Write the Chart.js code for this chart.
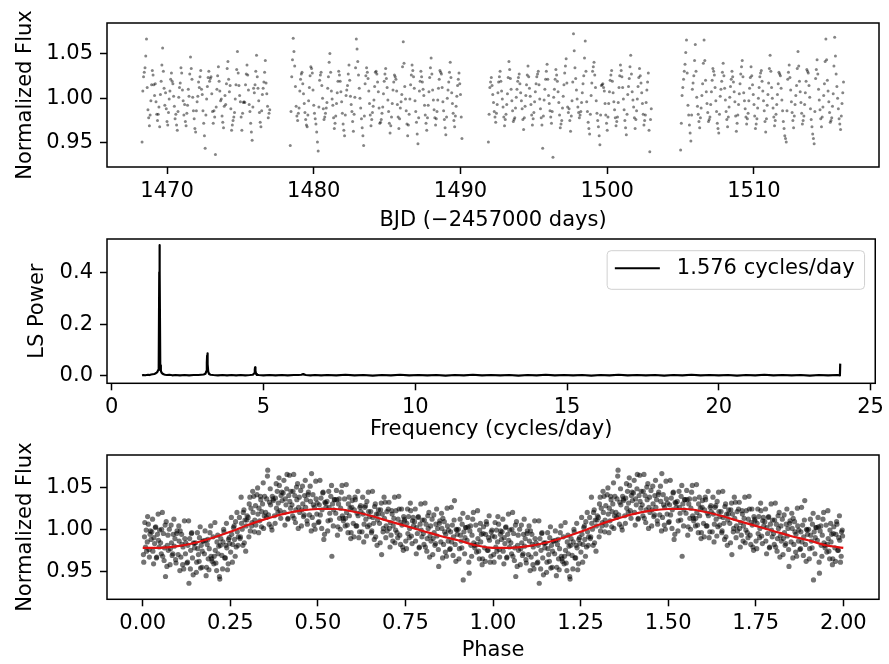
<!DOCTYPE html>
<html>
<head>
<meta charset="utf-8">
<script src="https://cdn.jsdelivr.net/npm/chart.js@4.4.1/dist/chart.umd.min.js"></script>
<style>
html,body{margin:0;padding:0;background:#fff;}
#wrap{position:relative;width:889px;height:664px;}
#wrap canvas{position:absolute;left:0;top:0;}
</style>
</head>
<body>
<div id="wrap">
<canvas id="lcChart" width="889" height="664"></canvas>
<canvas id="lsChart" width="889" height="664"></canvas>
<canvas id="foldChart" width="889" height="664"></canvas>
</div>
<script>
// ------------------ LIGHT CURVE (top panel) ------------------
const lcTime = [
  // part 1
  1468.3,1468.4,1468.5,1468.6,1468.7,1468.8,1468.9,1469.0,1469.1,1469.2,
  1469.3,1469.4,1469.5,1469.6,1469.7,1469.8,1469.9,1470.0,1470.1,1470.2,
  1470.3,1470.4,1470.5,1470.6,1470.7,1470.8,1470.9,1471.0,1471.1,1471.2,
  1471.3,1471.4,1471.5,1471.6,1471.7,1471.8,1471.9,1472.0,1472.1,1472.2,
  1472.3,1472.4,1472.5,1472.6,1472.7,1472.8,1472.9,1473.0,1473.1,1473.2,
  1473.3,1473.4,1473.5,1473.6,1473.7,1473.8,1473.9,1474.0,1474.1,1474.2,
  1474.3,1474.4,1474.5,1474.6,1474.7,1474.8,1474.9,1475.0,1475.1,1475.2,
  1475.3,1475.4,1475.5,1475.6,1475.7,1475.8,1475.9,1476.0,1476.1,1476.2,
  1476.3,1476.4,1476.5,1476.6,1476.7,1476.8,1476.9,1477.0,
  // part 2
  1478.4,1478.5,1478.6,1478.7,1478.8,1478.9,1479.0,1479.1,1479.2,1479.3,
  1479.4,1479.5,1479.6,1479.7,1479.8,1479.9,1480.0,1480.1,1480.2,1480.3,
  1480.4,1480.5,1480.6,1480.7,1480.8,1480.9,1481.0,1481.1,1481.2,1481.3,
  1481.4,1481.5,1481.6,1481.7,1481.8,1481.9,1482.0,1482.1,1482.2,1482.3,
  1482.4,1482.5,1482.6,1482.7,1482.8,1482.9,1483.0,1483.1,1483.2,1483.3,
  1483.4,1483.5,1483.6,1483.7,1483.8,1483.9,1484.0,1484.1,1484.2,1484.3,
  1484.4,1484.5,1484.6,1484.7,1484.8,1484.9,1485.0,1485.1,1485.2,1485.3,
  1485.4,1485.5,1485.6,1485.7,1485.8,1485.9,1486.0,1486.1,1486.2,1486.3,
  1486.4,1486.5,1486.6,1486.7,1486.8,1486.9,1487.0,1487.1,1487.2,1487.3,
  1487.4,1487.5,1487.6,1487.7,1487.8,1487.9,1488.0,1488.1,1488.2,1488.3,
  1488.4,1488.5,1488.6,1488.7,1488.8,1488.9,1489.0,1489.1,1489.2,1489.3,
  1489.4,1489.5,1489.6,1489.7,1489.8,1489.9,1490.0,1490.1,
  // part 3
  1491.9,1492.0,1492.1,1492.2,1492.3,1492.4,1492.5,1492.6,1492.7,1492.8,
  1492.9,1493.0,1493.1,1493.2,1493.3,1493.4,1493.5,1493.6,1493.7,1493.8,
  1493.9,1494.0,1494.1,1494.2,1494.3,1494.4,1494.5,1494.6,1494.7,1494.8,
  1494.9,1495.0,1495.1,1495.2,1495.3,1495.4,1495.5,1495.6,1495.7,1495.8,
  1495.9,1496.0,1496.1,1496.2,1496.3,1496.4,1496.5,1496.6,1496.7,1496.8,
  1496.9,1497.0,1497.1,1497.2,1497.3,1497.4,1497.5,1497.6,1497.7,1497.8,
  1497.9,1498.0,1498.1,1498.2,1498.3,1498.4,1498.5,1498.6,1498.7,1498.8,
  1498.9,1499.0,1499.1,1499.2,1499.3,1499.4,1499.5,1499.6,1499.7,1499.8,
  1499.9,1500.0,1500.1,1500.2,1500.3,1500.4,1500.5,1500.6,1500.7,1500.8,
  1500.9,1501.0,1501.1,1501.2,1501.3,1501.4,1501.5,1501.6,1501.7,1501.8,
  1501.9,1502.0,1502.1,1502.2,1502.3,1502.4,1502.5,1502.6,1502.7,1502.8,
  1502.9,1503.0,
  // part 4
  1505.0,1505.1,1505.2,1505.3,1505.4,1505.5,1505.6,1505.7,1505.8,1505.9,
  1506.0,1506.1,1506.2,1506.3,1506.4,1506.5,1506.6,1506.7,1506.8,1506.9,
  1507.0,1507.1,1507.2,1507.3,1507.4,1507.5,1507.6,1507.7,1507.8,1507.9,
  1508.0,1508.1,1508.2,1508.3,1508.4,1508.5,1508.6,1508.7,1508.8,1508.9,
  1509.0,1509.1,1509.2,1509.3,1509.4,1509.5,1509.6,1509.7,1509.8,1509.9,
  1510.0,1510.1,1510.2,1510.3,1510.4,1510.5,1510.6,1510.7,1510.8,1510.9,
  1511.0,1511.1,1511.2,1511.3,1511.4,1511.5,1511.6,1511.7,1511.8,1511.9,
  1512.0,1512.1,1512.2,1512.3,1512.4,1512.5,1512.6,1512.7,1512.8,1512.9,
  1513.0,1513.1,1513.2,1513.3,1513.4,1513.5,1513.6,1513.7,1513.8,1513.9,
  1514.0,1514.1,1514.2,1514.3,1514.4,1514.5,1514.6,1514.7,1514.8,1514.9,
  1515.0,1515.1,1515.2,1515.3,1515.4,1515.5,1515.6,1515.7,1515.8,1515.9,
  1516.0,1516.1
];
const lcFlux = [
  // part 1
  0.951,1.024,1.034,1.066,0.987,0.969,0.997,1.031,1.015,1.016,
  0.982,0.982,0.968,1.019,1.056,1.011,1.006,0.974,0.984,1.008,
  1.028,1.016,0.991,0.982,0.964,1.001,1.017,1.028,0.997,0.993,
  0.969,0.992,1.002,1.046,1.021,0.986,0.966,0.986,1.002,1.012,
  1.031,1.004,0.972,0.944,0.999,1.023,1.019,1.024,0.985,0.986,
  0.937,1.010,1.035,1.008,0.999,0.973,0.991,0.993,1.033,1.021,
  1.014,0.964,0.975,0.984,1.015,1.052,1.014,0.996,0.964,0.995,
  0.995,1.027,1.026,0.993,0.972,0.953,1.011,1.015,1.048,1.011,
  0.984,0.968,1.004,1.018,1.042,1.005,0.978,0.987,
  // part 2
  0.947,1.024,1.067,1.036,0.991,0.975,0.989,1.021,1.029,1.005,
  0.984,0.970,0.981,1.012,1.035,1.028,0.992,0.977,0.962,0.941,
  1.020,1.029,1.000,0.976,0.983,0.995,1.024,1.050,1.008,0.992,
  0.966,0.980,1.006,1.030,1.019,0.996,0.971,0.958,1.003,1.014,
  1.037,1.002,0.985,0.963,1.001,1.066,1.041,1.011,0.989,0.967,
  0.947,1.016,1.034,1.022,0.994,0.969,0.984,0.998,1.029,1.027,
  1.007,0.972,0.976,0.990,1.019,1.033,1.012,0.985,0.961,0.979,
  1.009,1.026,1.021,0.993,0.966,0.989,1.004,1.063,1.013,0.986,
  0.958,0.982,1.015,1.037,1.024,0.997,0.973,0.949,1.008,1.030,
  1.018,1.003,0.981,0.964,0.992,1.023,1.045,1.009,0.987,0.970,
  0.985,1.011,1.031,1.027,0.996,0.976,0.959,1.000,1.018,1.040,
  1.006,0.983,0.968,0.991,1.014,1.028,1.004,0.955,
  // part 3
  0.951,1.012,1.023,1.004,0.985,0.973,0.993,1.018,1.030,1.008,
  0.990,0.969,0.982,1.005,1.041,1.022,0.997,0.974,0.978,1.001,
  1.019,1.027,1.006,0.988,0.965,0.991,1.015,1.036,1.011,0.993,
  0.970,0.984,1.007,1.024,1.030,0.999,0.978,0.944,0.998,1.021,
  1.038,1.003,0.986,0.972,0.934,1.010,1.032,1.019,0.995,0.967,
  0.975,1.002,1.028,1.044,0.990,0.988,0.963,0.997,1.072,1.034,
  1.009,0.990,0.978,0.985,1.006,1.025,1.064,0.996,0.973,0.960,
  1.003,1.030,1.040,1.012,0.983,0.968,0.948,1.014,1.016,1.008,
  0.981,0.964,0.994,1.020,1.031,1.006,0.987,0.969,0.979,1.012,
  1.037,1.024,0.999,0.975,0.959,1.004,1.022,1.048,1.007,0.990,
  0.966,0.986,1.013,1.033,1.017,0.994,0.970,0.981,1.009,1.028,
  0.940,0.988,
  // part 4
  0.942,1.003,1.021,1.038,1.065,0.992,0.970,0.952,1.010,1.025,
  1.060,1.001,0.982,0.967,0.989,1.016,1.065,1.020,0.994,0.974,
  0.979,1.007,1.033,1.026,0.997,0.972,0.961,1.002,1.019,1.039,
  1.011,0.985,0.968,0.990,1.013,1.030,1.018,0.996,0.963,0.981,
  1.005,1.027,1.042,1.006,0.988,0.971,0.983,1.011,1.035,1.015,
  0.993,0.966,0.977,1.000,1.024,1.031,1.008,0.986,0.962,0.992,
  1.017,1.048,1.012,0.989,0.969,0.982,1.004,1.029,1.025,0.998,
  0.974,0.958,0.951,1.021,1.037,1.009,0.984,0.967,0.993,1.014,
  1.052,1.019,0.995,0.971,0.980,1.006,1.032,1.028,1.001,0.976,
  0.960,0.949,1.022,1.043,1.010,0.987,0.968,0.990,1.016,1.066,
  1.020,0.996,0.973,0.978,1.005,1.068,1.027,1.000,0.977,0.965,
  0.994,1.018
];
// in-between cadences of the same light curve
const lcTime2 = [
  1468.35,1468.45,1468.55,1468.65,1468.75,1468.85,1468.95,1469.05,1469.15,1469.25,
  1469.35,1469.45,1469.55,1469.65,1469.75,1469.85,1469.95,1470.05,1470.15,1470.25,
  1470.35,1470.45,1470.55,1470.65,1470.75,1470.85,1470.95,1471.05,1471.15,1471.25,
  1471.35,1471.45,1471.55,1471.65,1471.75,1471.85,1471.95,1472.05,1472.15,1472.25,
  1472.35,1472.45,1472.55,1472.65,1472.75,1472.85,1472.95,1473.05,1473.15,1473.25,
  1473.35,1473.45,1473.55,1473.65,1473.75,1473.85,1473.95,1474.05,1474.15,1474.25,
  1474.35,1474.45,1474.55,1474.65,1474.75,1474.85,1474.95,1475.05,1475.15,1475.25,
  1475.35,1475.45,1475.55,1475.65,1475.75,1475.85,1475.95,1476.05,1476.15,1476.25,
  1476.35,1476.45,1476.55,1476.65,1476.75,1476.85,1476.95,
  1478.45,1478.55,1478.65,1478.75,1478.85,1478.95,1479.05,1479.15,1479.25,1479.35,
  1479.45,1479.55,1479.65,1479.75,1479.85,1479.95,1480.05,1480.15,1480.25,1480.35,
  1480.45,1480.55,1480.65,1480.75,1480.85,1480.95,1481.05,1481.15,1481.25,1481.35,
  1481.45,1481.55,1481.65,1481.75,1481.85,1481.95,1482.05,1482.15,1482.25,1482.35,
  1482.45,1482.55,1482.65,1482.75,1482.85,1482.95,1483.05,1483.15,1483.25,1483.35,
  1483.45,1483.55,1483.65,1483.75,1483.85,1483.95,1484.05,1484.15,1484.25,1484.35,
  1484.45,1484.55,1484.65,1484.75,1484.85,1484.95,1485.05,1485.15,1485.25,1485.35,
  1485.45,1485.55,1485.65,1485.75,1485.85,1485.95,1486.05,1486.15,1486.25,1486.35,
  1486.45,1486.55,1486.65,1486.75,1486.85,1486.95,1487.05,1487.15,1487.25,1487.35,
  1487.45,1487.55,1487.65,1487.75,1487.85,1487.95,1488.05,1488.15,1488.25,1488.35,
  1488.45,1488.55,1488.65,1488.75,1488.85,1488.95,1489.05,1489.15,1489.25,1489.35,
  1489.45,1489.55,1489.65,1489.75,1489.85,1489.95,1490.05,
  1491.95,1492.05,1492.15,1492.25,1492.35,1492.45,1492.55,1492.65,1492.75,1492.85,
  1492.95,1493.05,1493.15,1493.25,1493.35,1493.45,1493.55,1493.65,1493.75,1493.85,
  1493.95,1494.05,1494.15,1494.25,1494.35,1494.45,1494.55,1494.65,1494.75,1494.85,
  1494.95,1495.05,1495.15,1495.25,1495.35,1495.45,1495.55,1495.65,1495.75,1495.85,
  1495.95,1496.05,1496.15,1496.25,1496.35,1496.45,1496.55,1496.65,1496.75,1496.85,
  1496.95,1497.05,1497.15,1497.25,1497.35,1497.45,1497.55,1497.65,1497.75,1497.85,
  1497.95,1498.05,1498.15,1498.25,1498.35,1498.45,1498.55,1498.65,1498.75,1498.85,
  1498.95,1499.05,1499.15,1499.25,1499.35,1499.45,1499.55,1499.65,1499.75,1499.85,
  1499.95,1500.05,1500.15,1500.25,1500.35,1500.45,1500.55,1500.65,1500.75,1500.85,
  1500.95,1501.05,1501.15,1501.25,1501.35,1501.45,1501.55,1501.65,1501.75,1501.85,
  1501.95,1502.05,1502.15,1502.25,1502.35,1502.45,1502.55,1502.65,1502.75,1502.85,
  1502.95,
  1505.05,1505.15,1505.25,1505.35,1505.45,1505.55,1505.65,1505.75,1505.85,1505.95,
  1506.05,1506.15,1506.25,1506.35,1506.45,1506.55,1506.65,1506.75,1506.85,1506.95,
  1507.05,1507.15,1507.25,1507.35,1507.45,1507.55,1507.65,1507.75,1507.85,1507.95,
  1508.05,1508.15,1508.25,1508.35,1508.45,1508.55,1508.65,1508.75,1508.85,1508.95,
  1509.05,1509.15,1509.25,1509.35,1509.45,1509.55,1509.65,1509.75,1509.85,1509.95,
  1510.05,1510.15,1510.25,1510.35,1510.45,1510.55,1510.65,1510.75,1510.85,1510.95,
  1511.05,1511.15,1511.25,1511.35,1511.45,1511.55,1511.65,1511.75,1511.85,1511.95,
  1512.05,1512.15,1512.25,1512.35,1512.45,1512.55,1512.65,1512.75,1512.85,1512.95,
  1513.05,1513.15,1513.25,1513.35,1513.45,1513.55,1513.65,1513.75,1513.85,1513.95,
  1514.05,1514.15,1514.25,1514.35,1514.45,1514.55,1514.65,1514.75,1514.85,1514.95,
  1515.05,1515.15,1515.25,1515.35,1515.45,1515.55,1515.65,1515.75,1515.85,1515.95,
  1516.05
];
const lcFlux2 = [
  1.008,1.029,1.047,1.012,0.978,0.981,1.015,1.026,1.003,0.996,
  0.975,0.990,1.004,1.037,1.030,0.992,0.988,0.970,0.999,1.021,
  1.019,1.002,0.977,0.970,0.985,1.012,1.034,1.009,0.981,0.974,
  0.983,1.010,1.027,1.033,1.001,0.977,0.962,0.996,1.018,1.024,
  1.010,0.986,0.958,0.981,1.013,1.030,1.022,1.005,0.972,0.979,
  0.990,1.025,1.019,0.997,0.980,0.967,1.003,1.016,1.041,1.007,
  0.988,0.970,0.979,0.999,1.032,1.028,1.003,0.979,0.983,0.996,
  1.015,1.037,1.009,0.985,0.962,0.990,1.006,1.030,1.024,0.997,
  0.973,0.986,1.011,1.029,1.017,0.991,0.983,
  0.985,1.043,1.052,1.013,0.980,0.983,1.008,1.027,1.016,0.994,
  0.976,0.968,0.997,1.025,1.033,1.009,0.983,0.971,0.951,0.990,
  1.026,1.014,0.988,0.979,0.989,1.011,1.040,1.029,0.999,0.978,
  0.972,0.994,1.019,1.026,1.007,0.983,0.964,0.981,1.009,1.027,
  1.020,0.993,0.974,0.982,1.034,1.055,1.026,1.000,0.977,0.958,
  0.980,1.025,1.029,1.008,0.981,0.976,0.991,1.013,1.030,1.018,
  0.989,0.973,0.983,1.005,1.027,1.022,0.998,0.972,0.969,0.994,
  1.018,1.024,1.008,0.979,0.977,0.996,1.035,1.039,0.999,0.971,
  0.970,0.999,1.026,1.031,1.011,0.985,0.960,0.978,1.019,1.024,
  1.010,0.992,0.972,0.978,1.007,1.034,1.027,0.998,0.978,0.977,
  0.998,1.021,1.029,1.012,0.986,0.967,0.979,1.009,1.029,1.023,
  0.994,0.975,0.980,1.002,1.021,1.016,0.979,
  0.982,1.018,1.014,0.995,0.979,0.983,1.006,1.024,1.019,0.999,
  0.979,0.976,0.993,1.023,1.032,1.010,0.986,0.976,0.989,1.010,
  1.023,1.016,0.997,0.976,0.978,1.003,1.026,1.024,1.002,0.981,
  0.977,0.996,1.016,1.027,1.015,0.988,0.970,0.980,1.010,1.030,
  1.021,0.994,0.979,0.985,1.001,1.021,1.026,1.007,0.981,0.971,
  0.989,1.015,1.036,1.017,0.984,0.975,0.980,1.018,1.053,1.022,
  0.999,0.984,0.981,0.995,1.016,1.045,1.030,0.985,0.966,0.982,
  1.017,1.035,1.026,0.997,0.975,0.958,0.981,1.015,1.012,0.994,
  0.972,0.979,1.007,1.026,1.019,0.996,0.978,0.974,0.995,1.025,
  1.031,1.012,0.987,0.967,0.982,1.013,1.035,1.027,0.998,0.978,
  0.976,0.999,1.023,1.025,1.006,0.982,0.975,0.995,1.018,0.964,
  0.976,
  0.972,1.012,1.030,1.051,1.028,0.981,0.961,0.981,1.017,1.042,
  1.030,0.991,0.974,0.978,1.003,1.039,1.042,1.007,0.984,0.976,
  0.993,1.020,1.030,1.012,0.985,0.966,0.982,1.010,1.029,1.025,
  0.998,0.976,0.979,1.001,1.021,1.024,1.007,0.980,0.972,0.993,
  1.016,1.035,1.024,0.997,0.979,0.977,0.997,1.023,1.025,1.004,
  0.980,0.971,0.989,1.012,1.028,1.019,0.997,0.974,0.977,1.004,
  1.033,1.030,1.000,0.979,0.975,0.993,1.016,1.027,1.011,0.986,
  0.966,0.955,0.986,1.029,1.023,0.996,0.975,0.980,1.003,1.033,
  1.036,1.007,0.983,0.975,0.993,1.019,1.030,1.014,0.988,0.968,
  0.955,0.985,1.032,1.027,0.998,0.977,0.979,1.003,1.041,1.043,
  1.008,0.984,0.975,0.991,1.036,1.047,1.013,0.988,0.971,0.980,
  1.006
];
const lcTicksX = [1470, 1480, 1490, 1500, 1510];
const lcTicksY = [0.95, 1.00, 1.05];

// ------------------ PERIODOGRAM (middle panel) ------------------
const lsFreq = [
  1.00,1.05,1.10,1.15,1.20,1.25,1.30,1.35,1.40,1.44,1.48,1.51,1.53,1.55,1.568,1.576,1.584,1.60,
  1.62,1.64,1.67,1.71,1.76,1.82,1.90,2.00,2.10,2.25,2.40,2.55,2.70,2.85,2.95,3.03,3.09,3.12,
  3.135,3.145,3.152,3.159,3.168,3.18,3.21,3.26,3.35,3.50,3.65,3.80,3.95,4.10,4.25,4.40,4.55,4.65,4.70,4.715,
  4.725,4.732,4.74,4.755,4.78,4.85,5.00,5.2,5.4,5.6,5.8,6.0,6.15,6.25,6.29,6.31,6.33,6.40,6.55,6.7,
  6.9,7.1,7.4,7.7,8.0,8.3,8.6,8.9,9.2,9.5,9.8,10.1,10.4,10.7,11.0,11.3,11.6,11.9,12.2,12.5,
  12.8,13.1,13.4,13.7,14.0,14.3,14.6,14.9,15.2,15.5,15.8,16.1,16.4,16.7,17.0,17.3,17.6,17.9,18.2,18.5,
  18.8,19.1,19.4,19.7,20.0,20.3,20.6,20.9,21.2,21.5,21.8,22.1,22.4,22.7,23.0,23.3,23.6,23.9,23.99,24.0
];
const lsPower = [
  0.002,0.003,0.002,0.003,0.004,0.003,0.005,0.006,0.007,0.009,0.012,0.016,0.022,0.035,0.400,0.505,0.400,0.040,
  0.020,0.013,0.009,0.006,0.004,0.003,0.004,0.002,0.003,0.002,0.003,0.002,0.003,0.003,0.004,0.005,0.008,0.018,
  0.050,0.078,0.087,0.075,0.045,0.016,0.007,0.004,0.003,0.002,0.003,0.002,0.003,0.002,0.003,0.002,0.003,0.004,0.010,0.024,
  0.033,0.030,0.020,0.008,0.004,0.003,0.002,0.003,0.002,0.003,0.002,0.003,0.003,0.004,0.006,0.007,0.005,0.003,0.002,0.003,
  0.002,0.003,0.002,0.004,0.002,0.003,0.001,0.003,0.002,0.004,0.002,0.003,0.002,0.003,0.001,0.003,0.002,0.004,0.002,0.003,
  0.002,0.003,0.001,0.003,0.002,0.004,0.002,0.003,0.002,0.003,0.001,0.003,0.002,0.004,0.002,0.003,0.002,0.003,0.001,0.003,
  0.002,0.004,0.002,0.003,0.002,0.003,0.001,0.003,0.002,0.004,0.002,0.003,0.002,0.003,0.001,0.003,0.002,0.003,0.002,0.047
];
const lsLabel = "1.576 cycles/day";
const lsTicksX = [0, 5, 10, 15, 20, 25];
const lsTicksY = [0.0, 0.2, 0.4];

// ------------------ PHASE FOLDED (bottom panel) ------------------
// one cycle of folded points; the plot shows it twice (phase 0-1 and 1-2)
const foldPhase = [
  0.002,0.005,0.008,0.010,0.013,0.016,0.018,0.021,0.024,
  0.026,0.029,0.032,0.034,0.037,0.040,0.042,0.045,0.048,
  0.051,0.054,0.057,0.059,0.062,0.065,0.067,0.070,0.073,
  0.076,0.079,0.082,0.084,0.087,0.090,0.092,0.095,0.098,
  0.101,0.104,0.107,0.109,0.112,0.115,0.117,0.120,0.123,
  0.126,0.129,0.132,0.134,0.137,0.140,0.142,0.145,0.148,
  0.151,0.154,0.157,0.159,0.162,0.165,0.167,0.170,0.173,
  0.176,0.179,0.182,0.184,0.187,0.190,0.192,0.195,0.198,
  0.201,0.204,0.207,0.209,0.212,0.215,0.217,0.220,0.223,
  0.226,0.229,0.232,0.234,0.237,0.240,0.242,0.245,0.248,
  0.251,0.254,0.257,0.259,0.262,0.265,0.267,0.270,0.273,
  0.276,0.279,0.282,0.284,0.287,0.290,0.292,0.295,0.298,
  0.301,0.304,0.307,0.309,0.312,0.315,0.317,0.320,0.323,
  0.326,0.329,0.332,0.334,0.337,0.340,0.342,0.345,0.348,
  0.351,0.354,0.357,0.359,0.362,0.365,0.367,0.370,0.373,
  0.376,0.379,0.382,0.384,0.387,0.390,0.392,0.395,0.398,
  0.401,0.404,0.407,0.409,0.412,0.415,0.417,0.420,0.423,
  0.426,0.429,0.432,0.434,0.437,0.440,0.442,0.445,0.448,
  0.451,0.454,0.457,0.459,0.462,0.465,0.467,0.470,0.473,
  0.476,0.479,0.482,0.484,0.487,0.490,0.492,0.495,0.498,
  0.501,0.504,0.507,0.509,0.512,0.515,0.517,0.520,0.523,
  0.526,0.529,0.532,0.534,0.537,0.540,0.542,0.545,0.548,
  0.551,0.554,0.557,0.559,0.562,0.565,0.567,0.570,0.573,
  0.576,0.579,0.582,0.584,0.587,0.590,0.592,0.595,0.598,
  0.601,0.604,0.607,0.609,0.612,0.615,0.617,0.620,0.623,
  0.626,0.629,0.632,0.634,0.637,0.640,0.642,0.645,0.648,
  0.651,0.654,0.657,0.659,0.662,0.665,0.667,0.670,0.673,
  0.676,0.679,0.682,0.684,0.687,0.690,0.692,0.695,0.698,
  0.701,0.704,0.707,0.709,0.712,0.715,0.717,0.720,0.723,
  0.726,0.729,0.732,0.734,0.737,0.740,0.742,0.745,0.748,
  0.751,0.754,0.757,0.759,0.762,0.765,0.767,0.770,0.773,
  0.776,0.779,0.782,0.784,0.787,0.790,0.792,0.795,0.798,
  0.801,0.804,0.807,0.809,0.812,0.815,0.817,0.820,0.823,
  0.826,0.829,0.832,0.834,0.837,0.840,0.842,0.845,0.848,
  0.851,0.854,0.857,0.859,0.862,0.865,0.867,0.870,0.873,
  0.876,0.879,0.882,0.884,0.887,0.890,0.892,0.895,0.898,
  0.901,0.904,0.907,0.909,0.912,0.915,0.917,0.920,0.923,
  0.926,0.929,0.932,0.934,0.937,0.940,0.942,0.945,0.948,
  0.951,0.954,0.957,0.959,0.962,0.965,0.967,0.970,0.973,
  0.976,0.979,0.982,0.984,0.987,0.990,0.992,0.995,0.998
];
const foldFlux = [
  0.970,0.991,0.979,0.999,0.985,1.006,0.976,0.994,0.988,
  0.997,0.974,0.990,0.983,1.003,0.967,0.994,0.987,0.999,
  0.984,1.000,0.968,0.995,0.978,0.944,1.009,0.981,0.975,
  1.000,0.977,0.984,0.969,0.994,0.980,0.989,0.960,0.998,
  0.970,0.986,0.998,0.967,0.982,0.979,0.953,0.989,0.984,
  0.960,0.981,0.936,0.989,0.975,0.996,0.966,0.984,0.978,
  0.984,0.961,0.977,0.970,0.990,0.954,0.981,0.974,0.986,
  0.971,0.987,0.955,0.982,0.965,0.977,0.996,0.968,0.962,
  0.991,0.968,0.975,0.960,0.985,0.971,0.980,0.941,0.989,
  0.969,0.985,0.997,0.966,0.981,0.978,0.952,0.988,0.983,
  0.973,0.994,0.982,1.002,0.988,1.009,0.979,0.997,0.991,
  1.014,0.991,1.007,1.000,1.020,0.984,1.011,1.004,1.016,
  1.014,1.030,0.998,1.025,1.008,1.020,1.039,1.011,1.005,
  1.041,1.018,1.025,1.010,1.035,1.021,1.030,1.001,1.039,
  1.020,1.036,1.070,1.017,1.032,1.029,1.003,1.039,1.034,
  1.016,1.037,1.025,1.045,1.031,1.052,1.022,1.040,1.034,
  1.043,1.020,1.036,1.029,1.065,1.013,1.040,1.033,1.045,
  1.029,1.045,1.013,1.040,1.023,1.035,1.054,1.026,1.020,
  1.046,1.023,1.030,1.015,1.040,1.026,1.035,1.006,1.044,
  1.017,1.033,1.066,1.014,1.029,1.026,1.000,1.036,1.031,
  1.008,1.029,1.017,1.037,1.023,1.044,0.988,1.032,1.026,
  1.033,1.010,1.026,1.019,1.039,0.968,1.030,1.023,1.035,
  1.019,1.035,1.003,1.030,1.013,1.025,1.044,1.016,1.010,
  1.036,1.013,1.020,1.005,1.030,1.016,1.025,0.996,1.034,
  1.007,1.023,1.035,1.004,1.019,1.016,0.990,1.026,1.021,
  0.997,1.018,1.006,1.026,1.012,1.033,1.003,1.021,1.015,
  1.021,0.998,1.014,1.007,1.027,0.991,1.018,1.011,1.023,
  1.007,1.023,0.970,1.018,1.001,1.013,1.032,1.004,0.998,
  1.024,1.001,1.008,0.993,1.018,1.004,1.013,0.984,1.022,
  0.996,1.012,1.024,0.993,1.008,1.005,0.979,1.015,1.010,
  0.986,1.007,0.995,1.015,1.001,1.022,0.992,1.010,1.004,
  1.009,0.986,1.002,0.995,1.015,0.979,1.006,0.999,1.011,
  0.995,1.011,0.979,1.006,0.989,1.001,1.020,0.992,0.986,
  1.012,0.989,0.996,0.981,1.006,0.992,1.001,0.956,1.010,
  0.985,1.001,1.013,0.982,0.997,0.994,0.968,1.004,0.999,
  0.976,0.997,0.985,1.005,0.991,1.034,0.982,1.000,0.994,
  1.000,0.977,0.993,0.986,1.006,0.940,0.997,0.990,1.002,
  0.987,1.003,0.948,0.998,0.981,0.993,1.012,0.984,0.978,
  1.005,0.982,0.989,0.974,0.999,0.985,0.994,0.965,1.003,
  0.978,0.994,1.006,0.975,0.990,0.987,0.961,0.997,0.992
];
// second batch of folded points (wider scatter)
const foldPhase2 = [
  0.003,0.006,0.011,0.014,0.019,0.022, 0.028,0.031,0.036,0.039,0.044,0.047,
  0.053,0.056,0.061,0.064,0.069,0.072, 0.078,0.081,0.086,0.089,0.094,0.097,
  0.103,0.106,0.111,0.114,0.119,0.122, 0.128,0.131,0.136,0.139,0.144,0.147,
  0.153,0.156,0.161,0.164,0.169,0.172, 0.178,0.181,0.186,0.189,0.194,0.197,
  0.203,0.206,0.211,0.214,0.219,0.222, 0.228,0.231,0.236,0.239,0.244,0.247,
  0.253,0.256,0.261,0.264,0.269,0.272, 0.278,0.281,0.286,0.289,0.294,0.297,
  0.303,0.306,0.311,0.314,0.319,0.322, 0.328,0.331,0.336,0.339,0.344,0.347,
  0.353,0.356,0.361,0.364,0.369,0.372, 0.378,0.381,0.386,0.389,0.394,0.397,
  0.403,0.406,0.411,0.414,0.419,0.422, 0.428,0.431,0.436,0.439,0.444,0.447,
  0.453,0.456,0.461,0.464,0.469,0.472, 0.478,0.481,0.486,0.489,0.494,0.497,
  0.503,0.506,0.511,0.514,0.519,0.522, 0.528,0.531,0.536,0.539,0.544,0.547,
  0.553,0.556,0.561,0.564,0.569,0.572, 0.578,0.581,0.586,0.589,0.594,0.597,
  0.603,0.606,0.611,0.614,0.619,0.622, 0.628,0.631,0.636,0.639,0.644,0.647,
  0.653,0.656,0.661,0.664,0.669,0.672, 0.678,0.681,0.686,0.689,0.694,0.697,
  0.703,0.706,0.711,0.714,0.719,0.722, 0.728,0.731,0.736,0.739,0.744,0.747,
  0.753,0.756,0.761,0.764,0.769,0.772, 0.778,0.781,0.786,0.789,0.794,0.797,
  0.803,0.806,0.811,0.814,0.819,0.822, 0.828,0.831,0.836,0.839,0.844,0.847,
  0.853,0.856,0.861,0.864,0.869,0.872, 0.878,0.881,0.886,0.889,0.894,0.897,
  0.903,0.906,0.911,0.914,0.919,0.922, 0.928,0.931,0.936,0.939,0.944,0.947,
  0.953,0.956,0.961,0.964,0.969,0.972, 0.978,0.981,0.986,0.989,0.994,0.997
];
const foldFlux2 = [
  0.961,1.008,0.974,1.015,0.967,0.998, 1.012,0.959,1.002,0.966,1.018,0.979,
  0.971,1.020,0.963,1.005,0.956,0.993, 0.958,1.005,0.971,1.012,0.964,0.995,
  1.004,0.951,0.994,0.958,1.010,0.971, 0.961,1.010,0.953,0.995,0.946,0.983,
  0.949,0.996,0.962,1.003,0.955,0.986, 0.998,0.945,0.988,0.952,1.004,0.965,
  0.959,1.008,0.951,0.993,0.944,0.981, 0.953,1.000,0.966,1.007,0.959,0.990,
  1.014,0.961,1.004,0.968,1.020,0.981, 0.989,1.038,0.981,1.023,0.974,1.011,
  0.991,1.038,1.004,1.045,0.997,1.028, 1.049,0.996,1.039,1.003,1.055,1.016,
  1.014,1.063,1.006,1.048,0.999,1.036, 1.007,1.054,1.020,1.061,1.013,1.044,
  1.058,1.005,1.048,1.012,1.064,1.025, 1.016,1.065,1.008,1.050,1.001,1.038,
  1.004,1.051,1.017,1.058,1.010,1.041, 1.051,0.998,1.041,1.005,1.057,1.018,
  1.009,1.058,1.001,1.043,0.994,1.031, 0.998,1.045,1.011,1.052,1.004,1.035,
  1.046,0.993,1.036,1.000,1.052,1.013, 1.004,1.053,0.996,1.038,0.989,1.026,
  0.991,1.038,1.004,1.045,0.997,1.028, 1.038,0.985,1.028,0.992,1.044,1.005,
  0.996,1.045,0.988,1.030,0.981,1.018, 0.984,1.031,0.997,1.038,0.990,1.021,
  1.032,0.979,1.022,0.986,1.038,0.999, 0.990,1.039,0.982,1.024,0.975,1.012,
  0.977,1.024,0.990,1.031,0.983,1.014, 1.024,0.971,1.014,0.978,1.030,0.991,
  0.982,1.031,0.974,1.016,0.967,1.004, 0.970,1.017,0.983,1.024,0.976,1.007,
  1.019,0.966,1.009,0.973,1.025,0.986, 0.977,1.026,0.969,1.011,0.962,0.999,
  0.965,1.012,0.978,1.019,0.971,1.002, 1.014,0.961,1.004,0.968,1.020,0.981,
  0.973,1.022,0.965,1.007,0.958,0.995, 0.962,1.009,0.975,1.016,0.968,0.999
];
// sinusoid model
const modelPhase = [0.00,0.05,0.10,0.15,0.20,0.25,0.30,0.35,0.40,0.45,0.50,0.55,0.60,0.65,0.70,0.75,0.80,0.85,0.90,0.95,1.00];
const modelFlux  = [0.978,0.978,0.980,0.984,0.990,0.997,1.005,1.012,1.018,1.022,1.024,1.024,1.021,1.016,1.010,1.004,0.998,0.992,0.987,0.981,0.978];
const foldTicksX = [0.00, 0.25, 0.50, 0.75, 1.00, 1.25, 1.50, 1.75, 2.00];
const foldTicksY = [0.95, 1.00, 1.05];

// ------------------ SHARED STYLE ------------------
const FONT = {family: '"DejaVu Sans", sans-serif', size: 21};
const W = 889, H = 664;

// matplotlib-style box round every axes
const frame = {
  id: "frame",
  afterDraw(chart) {
    const {ctx, chartArea: a} = chart;
    ctx.save();
    ctx.strokeStyle = "#000";
    ctx.lineWidth = 1.5;
    ctx.strokeRect(a.left, a.top, a.right - a.left, a.bottom - a.top);
    ctx.restore();
  }
};

// legend box in the upper right of the periodogram
const lsLegend = {
  id: "lsLegend",
  afterDraw(chart) {
    const {ctx, chartArea: a} = chart;
    const label = chart.data.datasets[0].label;
    ctx.save();
    ctx.font = FONT.size + "px " + FONT.family;
    const tw = ctx.measureText(label).width;
    const w = 7.7 + 45 + 17 + tw + 10, h = 38.6;
    const x = a.right - 10.7 - w, y = a.top + 11.7;
    ctx.beginPath();
    ctx.roundRect(x, y, w, h, 4);
    ctx.fillStyle = "rgba(255,255,255,0.8)";
    ctx.fill();
    ctx.strokeStyle = "#d0d0d0";
    ctx.lineWidth = 1;
    ctx.stroke();
    const cy = y + 17.6;
    ctx.beginPath();
    ctx.moveTo(x + 7.7, cy);
    ctx.lineTo(x + 52.7, cy);
    ctx.strokeStyle = "#000";
    ctx.lineWidth = 2;
    ctx.stroke();
    ctx.fillStyle = "#000";
    ctx.textBaseline = "middle";
    ctx.textAlign = "left";
    ctx.fillText(label, x + 69.7, cy);
    ctx.restore();
  }
};

function panelOptions(p) {
  return {
    responsive: false,
    animation: false,
    devicePixelRatio: 1,
    events: [],
    layout: {padding: {top: p.top, left: 0, right: 10, bottom: H - p.bottom - p.xH}},
    plugins: {legend: {display: false}, tooltip: {enabled: false}},
    scales: {
      x: {
        type: "linear", min: p.xMin, max: p.xMax,
        afterBuildTicks: s => { s.ticks = p.xTicks.map(v => ({value: v})); },
        afterFit: s => { s.height = p.xH; },
        ticks: {callback: v => p.xFmt(v), font: FONT, color: "#000", padding: 5, maxRotation: 0, autoSkip: false},
        grid: {drawOnChartArea: false, drawTicks: true, tickLength: 7, tickWidth: 1.5, tickColor: "#000"},
        border: {display: false},
        title: {display: true, text: p.xTitle, font: FONT, color: "#000", padding: {top: 0, bottom: p.xTitlePad}}
      },
      y: {
        type: "linear", min: p.yMin, max: p.yMax,
        afterBuildTicks: s => { s.ticks = p.yTicks.map(v => ({value: v})); },
        afterFit: s => { s.width = 107; },
        ticks: {callback: v => p.yFmt(v), font: FONT, color: "#000", padding: 7, autoSkip: false},
        grid: {drawOnChartArea: false, drawTicks: true, tickLength: 7, tickWidth: 1.5, tickColor: "#000"},
        border: {display: false},
        title: {display: true, text: p.yTitle, font: FONT, color: "#000", padding: {top: p.yTitlePad, bottom: 0}}
      }
    }
  };
}

function toPoints(xs, ys, shift) {
  const n = Math.min(xs.length, ys.length), out = [];
  for (let i = 0; i < n; i++) out.push({x: xs[i] + (shift || 0), y: ys[i]});
  return out;
}

// ------------------ TOP: light curve ------------------
const lcPoints = toPoints(lcTime, lcFlux).concat(toPoints(lcTime2, lcFlux2));

new Chart(document.getElementById("lcChart"), {
  type: "scatter",
  data: {datasets: [{data: lcPoints, pointRadius: 1.5, pointBorderWidth: 0, backgroundColor: "rgba(0,0,0,0.48)"}]},
  options: panelOptions({
    top: 23, bottom: 167, xH: 66,
    xMin: 1465.91, xMax: 1518.52, yMin: 0.923, yMax: 1.084,
    xTicks: lcTicksX, yTicks: lcTicksY,
    xFmt: v => String(v), yFmt: v => v.toFixed(2),
    xTitle: "BJD (\u22122457000 days)", yTitle: "Normalized Flux",
    xTitlePad: 0, yTitlePad: 13.4
  }),
  plugins: [frame]
});

// ------------------ MIDDLE: periodogram ------------------
new Chart(document.getElementById("lsChart"), {
  type: "scatter",
  data: {datasets: [{label: lsLabel, data: toPoints(lsFreq, lsPower), showLine: true, pointRadius: 0,
    borderColor: "#000", borderWidth: 2.2, borderJoinStyle: "round", tension: 0}]},
  options: panelOptions({
    top: 239, bottom: 383.3, xH: 64,
    xMin: -0.154, xMax: 25.154, yMin: -0.029, yMax: 0.529,
    xTicks: lsTicksX, yTicks: lsTicksY,
    xFmt: v => String(v), yFmt: v => v.toFixed(1),
    xTitle: "Frequency (cycles/day)", yTitle: "LS Power",
    xTitlePad: 5.3, yTitlePad: 25.1
  }),
  plugins: [frame, lsLegend]
});

// ------------------ BOTTOM: phase folded ------------------
let foldPoints = [];
let modelPoints = [];
for (let c = 0; c < 2; c++) {
  foldPoints = foldPoints.concat(toPoints(foldPhase, foldFlux, c), toPoints(foldPhase2, foldFlux2, c));
  const m = toPoints(modelPhase, modelFlux, c);
  modelPoints = modelPoints.concat(c === 0 ? m : m.slice(1));
}

new Chart(document.getElementById("foldChart"), {
  type: "scatter",
  data: {datasets: [
    {data: modelPoints, showLine: true, pointRadius: 0, borderColor: "#e01010", borderWidth: 2.2, cubicInterpolationMode: "monotone", order: 0},
    {data: foldPoints, pointRadius: 2.6, pointBorderWidth: 0, backgroundColor: "rgba(0,0,0,0.55)", order: 1}
  ]},
  options: panelOptions({
    top: 455, bottom: 599.3, xH: 64,
    xMin: -0.102, xMax: 2.102, yMin: 0.917, yMax: 1.088,
    xTicks: foldTicksX, yTicks: foldTicksY,
    xFmt: v => v.toFixed(2), yFmt: v => v.toFixed(2),
    xTitle: "Phase", yTitle: "Normalized Flux",
    xTitlePad: 0, yTitlePad: 13.4
  }),
  plugins: [frame]
});
</script>
</body>
</html>
